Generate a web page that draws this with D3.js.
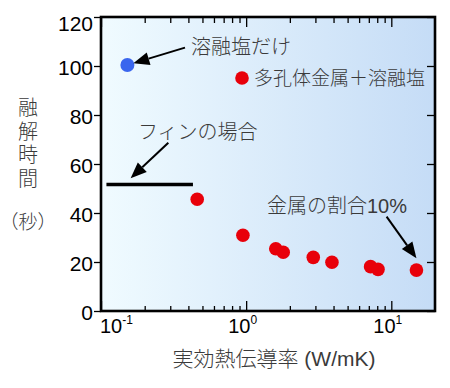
<!DOCTYPE html>
<meta charset="utf-8">
<style>
body { margin: 0; background: #fff; }
text { font-family: "Liberation Sans", "Noto Sans CJK JP", sans-serif; }
.note { fill: #3a3a3a; font-size: 20px; font-weight: 300; }
.axis line { stroke: #000; stroke-width: 1.3; }
.axis path { display: none; }
</style>
<svg width="450" height="388"></svg>
<script src="https://d3js.org/d3.v7.min.js"></script>
<script>
// 多孔体金属＋溶融塩
var conductivity = [0.46, 0.95, 1.6, 1.8, 2.9, 3.9, 7.2, 8.1, 14.9];
var meltTime = [45.6, 30.9, 25.4, 24.0, 21.9, 19.9, 18.1, 17.0, 16.7];
// 溶融塩だけ
var saltK = [0.152];
var saltTime = [100.4];
// フィンの場合
var finK = [0.109, 0.43];
var finTime = [51.6, 51.6];

var yTicks = [0, 20, 40, 60, 80, 100, 120];
var xMajor = [0.1, 1, 10];
var xMinor = [0.2, 0.3, 0.4, 0.5, 0.6, 0.7, 0.8, 0.9, 2, 3, 4, 5, 6, 7, 8, 9];
var xLabels = [["10", "-1"], ["10", "0"], ["10", "1"]];

var svg = d3.select("svg");
var margin = {top: 17, right: 15, bottom: 77, left: 101};
var w = +svg.attr("width") - margin.left - margin.right,
    h = +svg.attr("height") - margin.top - margin.bottom;

var x = d3.scaleLog().domain([0.1, 20]).range([0, w]);
var y = d3.scaleLinear().domain([0, 120]).range([h, 0]);

var defs = svg.append("defs");
var grad = defs.append("linearGradient").attr("id", "bg");
grad.append("stop").attr("offset", "0%").attr("stop-color", "#f0fbff");
grad.append("stop").attr("offset", "100%").attr("stop-color", "#c5dcf6");

var g = svg.append("g").attr("transform", "translate(" + margin.left + "," + margin.top + ")");

g.append("rect").attr("width", w).attr("height", h).attr("fill", "url(#bg)");

// ticks
g.append("g").attr("class", "axis")
    .call(d3.axisLeft(y).tickValues(yTicks).tickSize(7).tickPadding(1).tickFormat(d3.format("d")))
    .selectAll("text")
    .style("font-size", "21px").attr("fill", "#000")
    .attr("dy", function(d) { return d === 120 ? "0.62em" : "0.4em"; });
g.append("g").attr("class", "axis")
    .attr("transform", "translate(" + w + ",0)")
    .call(d3.axisRight(y).tickValues(yTicks).tickSize(-8).tickFormat(""));
g.append("g").attr("class", "axis")
    .attr("transform", "translate(0," + h + ")")
    .call(d3.axisBottom(x).tickValues(xMajor).tickSize(-10).tickFormat(""));
g.append("g").attr("class", "axis")
    .attr("transform", "translate(0," + h + ")")
    .call(d3.axisBottom(x).tickValues(xMinor).tickSize(-5).tickFormat(""));
g.append("g").attr("class", "axis")
    .call(d3.axisTop(x).tickValues(xMajor).tickSize(-10).tickFormat(""));
g.append("g").attr("class", "axis")
    .call(d3.axisTop(x).tickValues(xMinor).tickSize(-6).tickFormat(""));

// x tick labels with exponents (first one kept inside the left edge)
xMajor.forEach(function(v, i) {
  var t = g.append("text")
      .attr("x", i === 0 ? x(v) - 1 : x(v) - 18).attr("y", h + 22)
      .attr("text-anchor", "start")
      .style("font-size", "20px");
  t.append("tspan").text(xLabels[i][0]);
  t.append("tspan").attr("dy", -9).style("font-size", "12px").text(xLabels[i][1]);
});

// frame
g.append("rect").attr("width", w).attr("height", h)
    .attr("fill", "none").attr("stroke", "#000").attr("stroke-width", 2.6);

// fin line
g.append("line")
    .attr("x1", x(finK[0])).attr("x2", x(finK[1]))
    .attr("y1", y(finTime[0])).attr("y2", y(finTime[1]))
    .attr("stroke", "#000").attr("stroke-width", 3.5);

// points
g.selectAll(".pt").data(conductivity).enter().append("circle")
    .attr("class", "pt")
    .attr("cx", function(d) { return x(d); })
    .attr("cy", function(d, i) { return y(meltTime[i]); })
    .attr("r", 6.8).attr("fill", "#e8000a");
g.selectAll(".salt").data(saltK).enter().append("circle")
    .attr("class", "salt")
    .attr("cx", function(d) { return x(d); })
    .attr("cy", function(d, i) { return y(saltTime[i]); })
    .attr("r", 7).attr("fill", "#3a66ee");

// legend
g.append("circle").attr("cx", 141).attr("cy", 61).attr("r", 6.8).attr("fill", "#e8000a");
g.append("text").attr("class", "note").attr("x", 153).attr("y", 68)
    .style("font-size", "19px").text("多孔体金属＋溶融塩");

// arrows (data coords)
function arrow(k1, t1, k2, t2) {
  var x1 = x(k1), y1 = y(t1), x2 = x(k2), y2 = y(t2);
  var a = Math.atan2(y2 - y1, x2 - x1), L = 16, hw = 6.5;
  var bx = x2 - L * Math.cos(a), by = y2 - L * Math.sin(a);
  g.append("line").attr("x1", x1).attr("y1", y1).attr("x2", bx).attr("y2", by)
      .attr("stroke", "#000").attr("stroke-width", 2);
  g.append("path")
      .attr("d", "M" + x2 + "," + y2 +
        "L" + (bx + hw * Math.sin(a)) + "," + (by - hw * Math.cos(a)) +
        "L" + (bx - hw * Math.sin(a)) + "," + (by + hw * Math.cos(a)) + "Z")
      .attr("fill", "#000");
}
arrow(0.379, 107.5, 0.167, 101.1);
arrow(0.291, 68.7, 0.160, 54.2);
arrow(9.28, 38.5, 14.9, 21.5);

g.append("text").attr("class", "note").attr("x", 90).attr("y", 37).text("溶融塩だけ");
g.append("text").attr("class", "note").attr("x", 37).attr("y", 122).text("フィンの場合");
g.append("text").attr("class", "note").attr("x", 166).attr("y", 196).text("金属の割合10%");

// axis titles
"融解時間".split("").forEach(function(c, i) {
  svg.append("text").attr("class", "note").attr("x", 28).attr("y", 115 + i * 23.5)
      .attr("text-anchor", "middle").text(c);
});
svg.append("text").attr("class", "note").attr("x", 28).attr("y", 229)
    .attr("text-anchor", "middle").style("font-size", "19px").text("（秒）");
svg.append("text").attr("class", "note").attr("x", 274).attr("y", 366)
    .attr("text-anchor", "middle").style("font-size", "21px").text("実効熱伝導率 (W/mK)");
</script>
